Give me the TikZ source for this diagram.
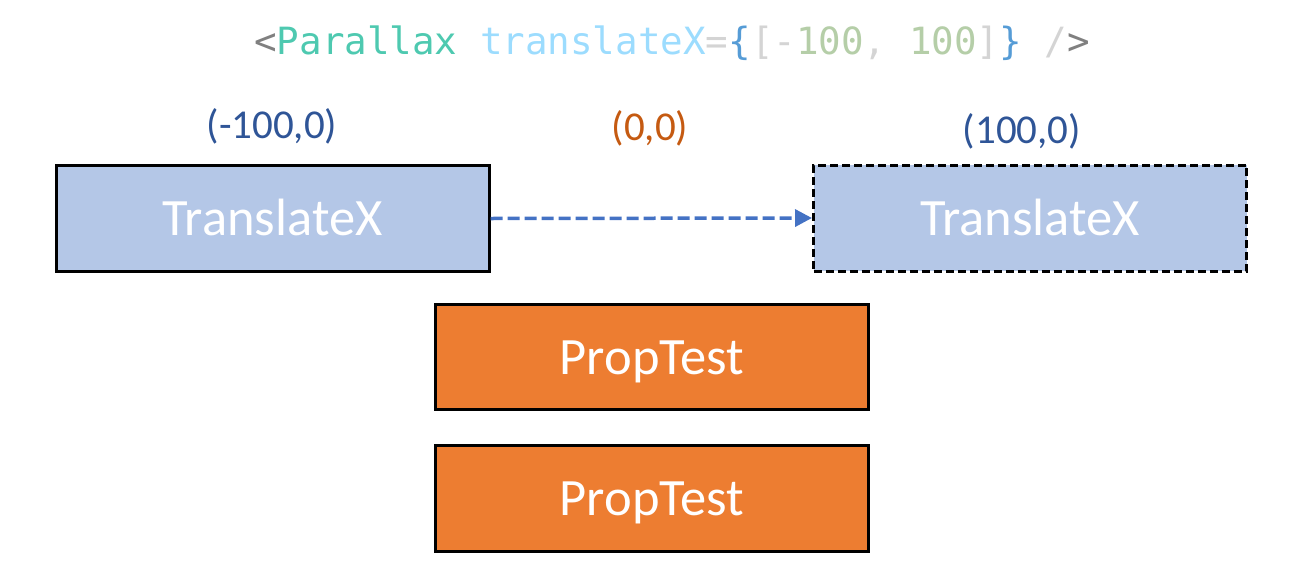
\documentclass[tikz,border=0pt]{standalone}
\usepackage{fontspec}
\setmainfont{Carlito}
\newfontfamily\codefont{DejaVu Sans Mono}
\usetikzlibrary{arrows.meta}

\definecolor{boxblue}{HTML}{B4C7E7}
\definecolor{boxorange}{HTML}{ED7D31}
\definecolor{arrowblue}{HTML}{4472C4}
\definecolor{posblue}{HTML}{2F5597}
\definecolor{posorange}{HTML}{C55A11}
\definecolor{codegray}{HTML}{808080}
\definecolor{codelight}{HTML}{D4D4D4}
\definecolor{codeteal}{HTML}{4EC9B0}
\definecolor{codeattr}{HTML}{9CDCFE}
\definecolor{codebrace}{HTML}{569CD6}
\definecolor{codenum}{HTML}{B5CEA8}

\tikzset{
    layerbox/.style={draw=black, line width=3pt, minimum width=433pt,
        minimum height=106pt, inner sep=0pt, text=white,
        text height=34pt, text depth=0pt,
        font=\fontsize{52.5}{62}\selectfont},
    posnode/.style={inner sep=0pt, font=\fontsize{41}{49}\selectfont},
}

\begin{document}
\begin{tikzpicture}[x=1pt, y=-1pt]
\useasboundingbox (0,0) rectangle (1289,581);
% code line
\node [inner sep=0pt, font=\codefont\fontsize{37.5}{45}\selectfont] (code) at (672,43)
{\textcolor{codegray}{<}\textcolor{codeteal}{Parallax} \textcolor{codeattr}{translateX}\textcolor{codelight}{=}\textcolor{codebrace}{\{}\textcolor{codelight}{[-}\textcolor{codenum}{100}\textcolor{codelight}{,} \textcolor{codenum}{100}\textcolor{codelight}{]}\textcolor{codebrace}{\}} \textcolor{codelight}{/}\textcolor{codegray}{>}};
% positions
\node [posnode, text=posblue] (left) at (272,126) {(-100,0)};
\node [posnode, text=posorange] (mid) at (650,128) {(0,0)};
\node [posnode, text=posblue] (right) at (1022,131) {(100,0)};
% boxes
\node [layerbox, fill=boxblue] (start) at (272.5,218.5) {TranslateX};
\node [layerbox, fill=boxblue, dash pattern=on 8pt off 4pt] (end) at (1030,218) {TranslateX};
\node [layerbox, fill=boxorange, minimum height=105pt] (prop1) at (652,357) {PropTest};
\node [layerbox, fill=boxorange] (prop2) at (652,498.5) {PropTest};
\draw [arrowblue, line width=3.5pt, dash pattern=on 12pt off 5pt,
    -{Triangle[length=17pt, width=17pt]}] (start.east) -- (end.west);
\end{tikzpicture}
\end{document}
